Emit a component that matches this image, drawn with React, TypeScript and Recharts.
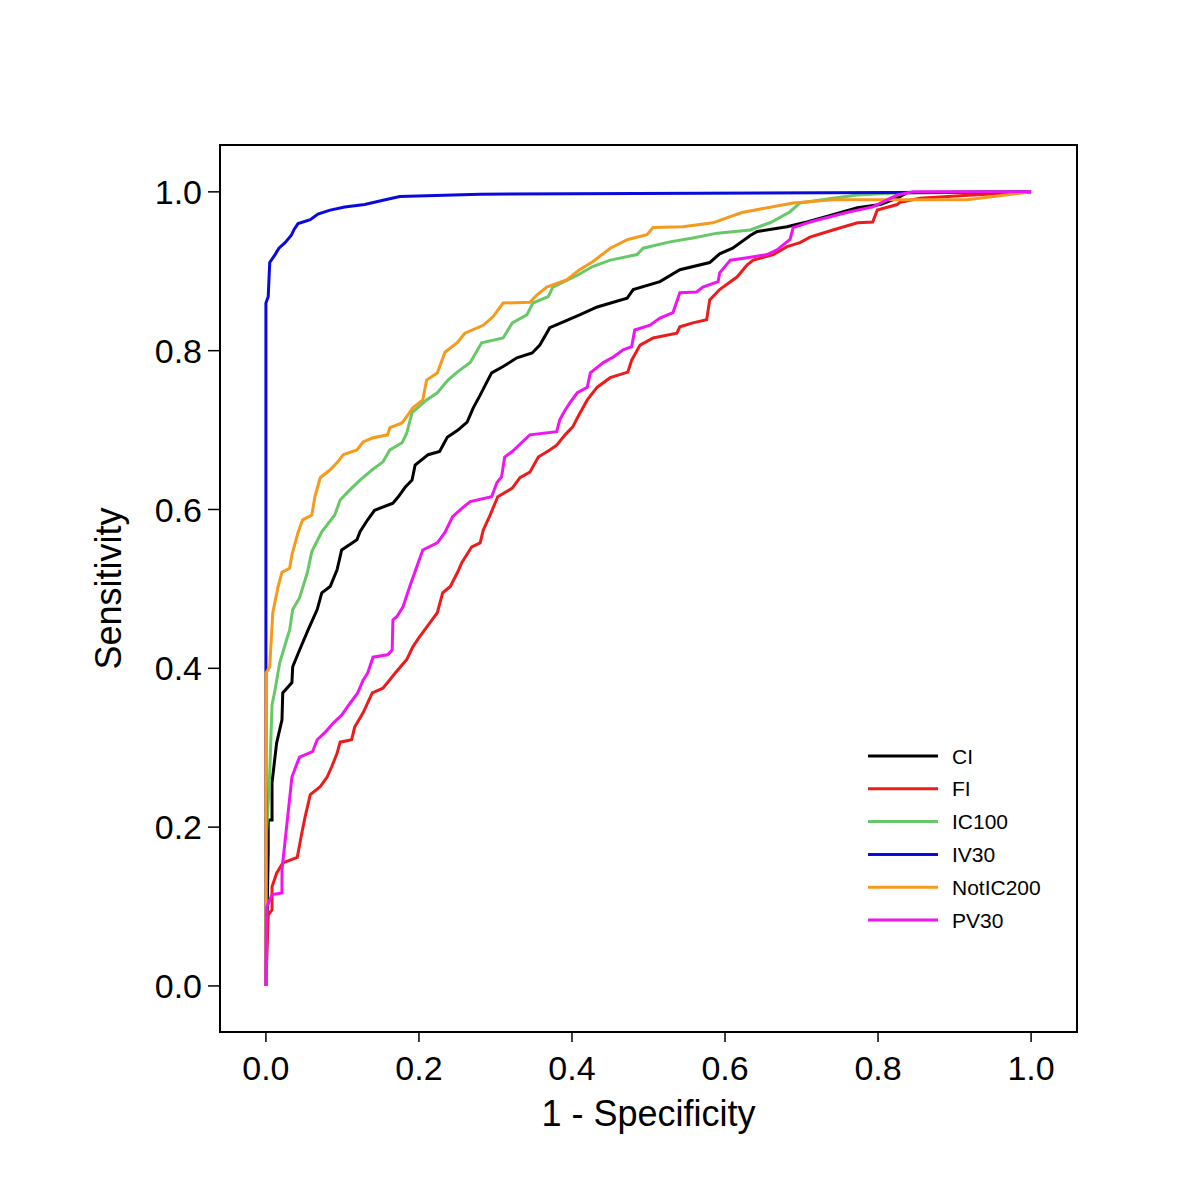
import { LineChart, Line, XAxis, YAxis, ReferenceArea, Legend, Label } from 'recharts';

// ROC curves, values (x = 1 - specificity, y = sensitivity)
const ciFpr = [0, 0.003, 0.003, 0.008, 0.008, 0.014, 0.021, 0.022, 0.034, 0.035, 0.044, 0.055, 0.067, 0.073, 0.084, 0.093, 0.099, 0.119, 0.123, 0.133, 0.142, 0.166, 0.173, 0.182, 0.191, 0.195, 0.212, 0.227, 0.237, 0.251, 0.263, 0.271, 0.28, 0.289, 0.295, 0.31, 0.328, 0.348, 0.358, 0.371, 0.388, 0.41, 0.433, 0.472, 0.48, 0.515, 0.541, 0.58, 0.593, 0.61, 0.633, 0.642, 0.681, 0.707, 0.733, 0.773, 0.803, 0.825, 0.838, 1];
const ciTpr = [0, 0.171, 0.209, 0.209, 0.256, 0.306, 0.335, 0.369, 0.382, 0.402, 0.423, 0.448, 0.474, 0.495, 0.503, 0.524, 0.549, 0.562, 0.572, 0.587, 0.599, 0.608, 0.616, 0.628, 0.637, 0.656, 0.669, 0.673, 0.691, 0.7, 0.71, 0.728, 0.744, 0.761, 0.772, 0.78, 0.791, 0.797, 0.807, 0.829, 0.836, 0.845, 0.855, 0.866, 0.877, 0.887, 0.902, 0.911, 0.922, 0.929, 0.945, 0.95, 0.956, 0.962, 0.969, 0.98, 0.984, 0.992, 0.999, 1];

const fiFpr = [0, 0.003, 0.008, 0.008, 0.014, 0.022, 0.041, 0.047, 0.051, 0.058, 0.071, 0.08, 0.086, 0.093, 0.097, 0.112, 0.116, 0.127, 0.139, 0.153, 0.169, 0.184, 0.192, 0.201, 0.214, 0.224, 0.231, 0.241, 0.25, 0.256, 0.269, 0.28, 0.284, 0.293, 0.303, 0.322, 0.332, 0.345, 0.356, 0.371, 0.38, 0.391, 0.401, 0.408, 0.42, 0.433, 0.45, 0.473, 0.478, 0.489, 0.506, 0.537, 0.541, 0.558, 0.576, 0.58, 0.593, 0.616, 0.629, 0.637, 0.663, 0.681, 0.698, 0.711, 0.741, 0.773, 0.793, 0.799, 0.825, 0.829, 0.855, 0.907, 1];
const fiTpr = [0, 0.089, 0.096, 0.125, 0.142, 0.155, 0.162, 0.193, 0.212, 0.241, 0.251, 0.263, 0.276, 0.293, 0.307, 0.31, 0.326, 0.344, 0.369, 0.375, 0.394, 0.411, 0.427, 0.44, 0.457, 0.47, 0.495, 0.503, 0.52, 0.533, 0.553, 0.558, 0.574, 0.593, 0.616, 0.627, 0.64, 0.647, 0.666, 0.675, 0.681, 0.694, 0.704, 0.717, 0.738, 0.754, 0.766, 0.773, 0.788, 0.807, 0.816, 0.822, 0.83, 0.835, 0.839, 0.864, 0.877, 0.893, 0.908, 0.914, 0.921, 0.931, 0.936, 0.943, 0.952, 0.961, 0.962, 0.977, 0.984, 0.987, 0.992, 0.995, 1];

const ic100Fpr = [0, 0.001, 0.005, 0.008, 0.012, 0.018, 0.027, 0.031, 0.035, 0.044, 0.054, 0.06, 0.073, 0.09, 0.097, 0.11, 0.123, 0.139, 0.153, 0.162, 0.178, 0.184, 0.191, 0.21, 0.224, 0.238, 0.25, 0.267, 0.282, 0.31, 0.322, 0.341, 0.349, 0.369, 0.375, 0.407, 0.427, 0.45, 0.485, 0.493, 0.528, 0.558, 0.59, 0.633, 0.661, 0.685, 0.698, 0.741, 0.773, 0.829, 1];
const ic100Tpr = [0, 0.196, 0.268, 0.354, 0.373, 0.407, 0.436, 0.448, 0.474, 0.489, 0.52, 0.547, 0.572, 0.593, 0.612, 0.625, 0.637, 0.65, 0.66, 0.675, 0.684, 0.696, 0.722, 0.738, 0.747, 0.763, 0.773, 0.785, 0.81, 0.816, 0.835, 0.845, 0.86, 0.868, 0.88, 0.895, 0.906, 0.914, 0.921, 0.929, 0.937, 0.942, 0.948, 0.952, 0.962, 0.975, 0.986, 0.992, 0.996, 0.999, 1];

const iv30Fpr = [0, 0, 0.003, 0.005, 0.012, 0.017, 0.025, 0.033, 0.037, 0.042, 0.058, 0.068, 0.084, 0.103, 0.129, 0.156, 0.175, 0.28, 1];
const iv30Tpr = [0, 0.86, 0.868, 0.911, 0.921, 0.929, 0.936, 0.945, 0.953, 0.96, 0.965, 0.972, 0.977, 0.981, 0.984, 0.99, 0.994, 0.997, 1];

const notIc200Fpr = [0, 0, 0.005, 0.009, 0.016, 0.021, 0.031, 0.034, 0.042, 0.048, 0.06, 0.064, 0.071, 0.084, 0.094, 0.101, 0.119, 0.127, 0.139, 0.159, 0.162, 0.178, 0.184, 0.192, 0.205, 0.21, 0.224, 0.234, 0.25, 0.26, 0.284, 0.297, 0.31, 0.345, 0.354, 0.367, 0.393, 0.41, 0.427, 0.45, 0.473, 0.498, 0.506, 0.545, 0.584, 0.622, 0.689, 0.741, 0.916, 1];
const notIc200Tpr = [0, 0.394, 0.402, 0.47, 0.503, 0.521, 0.526, 0.543, 0.571, 0.587, 0.593, 0.616, 0.64, 0.65, 0.66, 0.669, 0.675, 0.685, 0.69, 0.694, 0.703, 0.709, 0.717, 0.728, 0.738, 0.763, 0.772, 0.798, 0.81, 0.822, 0.832, 0.843, 0.86, 0.861, 0.87, 0.88, 0.889, 0.902, 0.912, 0.929, 0.94, 0.946, 0.955, 0.956, 0.961, 0.974, 0.986, 0.99, 0.99, 1];

const pv30Fpr = [0, 0.001, 0.008, 0.021, 0.021, 0.027, 0.029, 0.034, 0.041, 0.044, 0.061, 0.067, 0.077, 0.088, 0.099, 0.11, 0.12, 0.127, 0.133, 0.14, 0.159, 0.165, 0.166, 0.171, 0.179, 0.188, 0.205, 0.224, 0.234, 0.244, 0.258, 0.267, 0.295, 0.302, 0.308, 0.312, 0.322, 0.335, 0.345, 0.38, 0.384, 0.391, 0.397, 0.407, 0.42, 0.424, 0.441, 0.454, 0.467, 0.478, 0.482, 0.502, 0.515, 0.532, 0.541, 0.563, 0.571, 0.591, 0.593, 0.607, 0.629, 0.655, 0.668, 0.685, 0.689, 0.711, 0.759, 0.793, 0.812, 0.825, 0.846, 1];
const pv30Tpr = [0, 0.099, 0.115, 0.117, 0.146, 0.2, 0.218, 0.263, 0.281, 0.288, 0.295, 0.31, 0.319, 0.331, 0.341, 0.356, 0.369, 0.385, 0.394, 0.414, 0.417, 0.423, 0.461, 0.465, 0.477, 0.503, 0.549, 0.558, 0.571, 0.591, 0.603, 0.61, 0.616, 0.634, 0.641, 0.666, 0.673, 0.685, 0.694, 0.698, 0.713, 0.725, 0.734, 0.747, 0.754, 0.772, 0.785, 0.792, 0.801, 0.805, 0.826, 0.832, 0.841, 0.848, 0.873, 0.874, 0.88, 0.887, 0.898, 0.914, 0.917, 0.921, 0.927, 0.94, 0.955, 0.962, 0.974, 0.981, 0.99, 0.996, 1, 1];

const ticks = [0, 0.2, 0.4, 0.6, 0.8, 1];

const FONT = '"Liberation Sans", Arial, Helvetica, sans-serif';

function toPoints(fpr: number[], tpr: number[]) {
  const n = Math.min(fpr.length, tpr.length);
  return fpr.slice(0, n).map((x, i) => ({ x, y: tpr[i] }));
}

const series = [
  { name: 'CI', color: '#000000', data: toPoints(ciFpr, ciTpr) },
  { name: 'FI', color: '#EC1C1C', data: toPoints(fiFpr, fiTpr) },
  { name: 'IC100', color: '#66C866', data: toPoints(ic100Fpr, ic100Tpr) },
  { name: 'IV30', color: '#0A0ADC', data: toPoints(iv30Fpr, iv30Tpr) },
  { name: 'NotIC200', color: '#F59A1C', data: toPoints(notIc200Fpr, notIc200Tpr) },
  { name: 'PV30', color: '#F014F0', data: toPoints(pv30Fpr, pv30Tpr) },
];

function RocLegend({ payload }: any) {
  return (
    <svg width={200} height={200} style={{ display: 'block' }}>
      {(payload ?? []).map((entry: any, i: number) => {
        const cy = 16 + i * 32.8;
        return (
          <g key={entry.value}>
            <line x1={0} x2={70} y1={cy} y2={cy} stroke={entry.color} strokeWidth={3} />
            <text x={84} y={cy + 7.5} fontSize={21} fill="#000" fontFamily={FONT}>
              {entry.value}
            </text>
          </g>
        );
      })}
    </svg>
  );
}

export default function App() {
  return (
    <div style={{ width: 1200, height: 1200, background: '#fff' }}>
      <style>{'body{margin:0}'}</style>
      <LineChart
        width={1200}
        height={1200}
        margin={{ top: 145, right: 123, bottom: 68, left: 100 }}
        style={{ fontFamily: FONT }}
      >
        <XAxis
          type="number"
          dataKey="x"
          domain={[-0.06, 1.06]}
          allowDataOverflow
          ticks={ticks}
          tickFormatter={(v: number) => v.toFixed(1)}
          axisLine={false}
          tickLine={{ stroke: '#000', strokeWidth: 1.5 }}
          tickSize={10}
          tickMargin={14}
          height={100}
          tick={{ fontSize: 34, fill: '#000' }}
        >
          <Label value="1 - Specificity" position="insideBottom" offset={6} fontSize={36} fill="#000" />
        </XAxis>
        <YAxis
          type="number"
          dataKey="y"
          domain={[-0.058, 1.059]}
          allowDataOverflow
          ticks={ticks}
          tickFormatter={(v: number) => v.toFixed(1)}
          axisLine={false}
          tickLine={{ stroke: '#000', strokeWidth: 1.5 }}
          tickSize={12}
          tickMargin={6}
          width={120}
          tick={{ fontSize: 34, fill: '#000' }}
        >
          <Label
            value="Sensitivity"
            angle={-90}
            position="insideLeft"
            offset={8}
            fontSize={36}
            fill="#000"
            style={{ textAnchor: 'middle' }}
          />
        </YAxis>
        <ReferenceArea x1={-0.06} x2={1.06} y1={-0.058} y2={1.059} fill="none" stroke="#000" strokeWidth={2} />
        {series.map((s) => (
          <Line
            key={s.name}
            name={s.name}
            data={s.data}
            dataKey="y"
            type="linear"
            stroke={s.color}
            strokeWidth={3}
            dot={false}
            isAnimationActive={false}
          />
        ))}
        <Legend
          layout="vertical"
          align="center"
          verticalAlign="middle"
          content={<RocLegend />}
          wrapperStyle={{ left: 868, top: 740, width: 200, height: 200 }}
        />
      </LineChart>
    </div>
  );
}
